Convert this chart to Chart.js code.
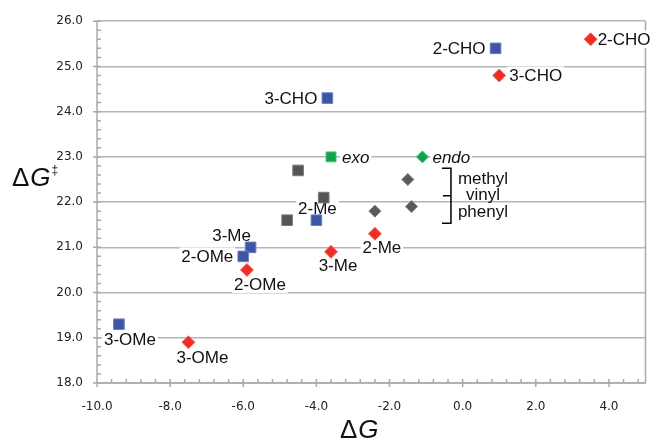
<!DOCTYPE html>
<html>
<head>
<meta charset="utf-8">
<title>ΔG‡ vs ΔG</title>
<script src="https://cdn.jsdelivr.net/npm/chart.js@4.4.0/dist/chart.umd.min.js"></script>
<style>
  html, body { margin: 0; padding: 0; background: #fff; }
  canvas { display: block; }
</style>
</head>
<body>
<canvas id="chart" width="654" height="441"></canvas>
<script>
// данные
const blueLabels = ['2-CHO', '3-CHO', '2-Me', '3-Me', '2-OMe', '3-OMe'];
const blueX = [0.9, -3.7, -4.0, -5.8, -6.0, -9.4];
const blueY = [25.4, 24.3, 21.6, 21.0, 20.8, 19.3];

const redLabels = ['2-CHO', '3-CHO', '2-Me', '3-Me', '2-OMe', '3-OMe'];
const redX = [3.5, 1.0, -2.4, -3.6, -5.9, -7.5];
const redY = [25.6, 24.8, 21.3, 20.9, 20.5, 18.9];

const greenLabels = ['exo', 'endo'];
const greenX = [-3.6, -1.1];
const greenY = [23.0, 23.0];

const greySquareX = [-4.5, -3.8, -4.8];
const greySquareY = [22.7, 22.1, 21.6];
const greyDiamondX = [-1.5, -1.4, -2.4];
const greyDiamondY = [22.5, 21.9, 21.8];

const bracketLabels = ['methyl', 'vinyl', 'phenyl'];
const bracketX = -0.32;
const bracketYRange = [21.53, 22.75];

const xTicks = [-10, -8, -6, -4, -2, 0, 2, 4];
const yTicks = [18, 19, 20, 21, 22, 23, 24, 25, 26];

// размещение подписей: [textAlign, dx, dy] в пикселях
const blueLabelPos = [['right', -10, 0], ['right', -10, 0], ['center', 1, -12],
                      ['center', -19, -12], ['right', -10, 0], ['center', 11, 15]];
const redLabelPos = [['left', 7, 0], ['left', 10, 0], ['center', 7, 14],
                     ['center', 7, 13], ['center', 13, 14], ['center', 14, 15]];
const greenLabelPos = [['left', 11, 0], ['left', 10, 0]];

const AXIS = '#a9a9a9';
const TEXT = '#111';
const SANS = '"Liberation Sans", Arial, sans-serif';

function pts(xs, ys) {
  return xs.map((x, i) => ({ x: x, y: ys[i] }));
}

// рамка, основные и промежуточные деления
const framePlugin = {
  id: 'frame',
  beforeDatasetsDraw(chart) {
    const { ctx, chartArea: a, scales: { x, y } } = chart;
    ctx.save();
    ctx.strokeStyle = AXIS;
    ctx.lineWidth = 1.5;
    ctx.beginPath();
    ctx.moveTo(a.left, a.top);
    ctx.lineTo(a.left, a.bottom);
    ctx.lineTo(a.right, a.bottom);
    ctx.lineTo(a.right, a.top);
    // minor ticks
    for (let v = -10; v < 5; v += 0.4) {
      const px = x.getPixelForValue(v);
      ctx.moveTo(px, a.bottom);
      ctx.lineTo(px, a.bottom - 4);
    }
    for (let v = 18; v < 26.01; v += 0.2) {
      const py = y.getPixelForValue(v);
      ctx.moveTo(a.left, py);
      ctx.lineTo(a.left + 4, py);
    }
    // major ticks
    xTicks.forEach(v => {
      const px = x.getPixelForValue(v);
      ctx.moveTo(px, a.bottom - 4);
      ctx.lineTo(px, a.bottom + 4);
    });
    yTicks.forEach(v => {
      const py = y.getPixelForValue(v);
      ctx.moveTo(a.left - 4, py);
      ctx.lineTo(a.left + 4, py);
    });
    ctx.stroke();

    // подписи точек (с белым фоном поверх сетки)
    const drawLabels = (labels, xs, ys, pos, italic) => {
      ctx.font = (italic ? 'italic ' : '') + '17px ' + SANS;
      ctx.textBaseline = 'middle';
      labels.forEach((t, i) => {
        const [align, dx, dy] = pos[i];
        const px = x.getPixelForValue(xs[i]) + dx;
        const py = y.getPixelForValue(ys[i]) + dy;
        const w = ctx.measureText(t).width;
        let left = px;
        if (align === 'right') left = px - w;
        if (align === 'center') left = px - w / 2;
        ctx.fillStyle = '#fff';
        ctx.fillRect(left - 2, py - 9, w + 4, 18);
        ctx.fillStyle = TEXT;
        ctx.textAlign = align;
        ctx.fillText(t, px, py + 1);
      });
    };
    drawLabels(blueLabels, blueX, blueY, blueLabelPos, false);
    drawLabels(redLabels, redX, redY, redLabelPos, false);
    drawLabels(greenLabels, greenX, greenY, greenLabelPos, true);

    // скобка methyl / vinyl / phenyl
    const bx = x.getPixelForValue(bracketX);
    const bTop = y.getPixelForValue(bracketYRange[1]);
    const bBot = y.getPixelForValue(bracketYRange[0]);
    const bMid = (bTop + bBot) / 2;
    ctx.strokeStyle = '#000';
    ctx.lineWidth = 1.5;
    ctx.beginPath();
    ctx.moveTo(bx - 9, bTop);
    ctx.lineTo(bx, bTop);
    ctx.lineTo(bx, bBot);
    ctx.lineTo(bx - 9, bBot);
    ctx.moveTo(bx, bMid);
    ctx.lineTo(bx - 8, bMid);
    ctx.stroke();
    ctx.font = '17px ' + SANS;
    ctx.fillStyle = TEXT;
    ctx.textAlign = 'center';
    ctx.textBaseline = 'middle';
    bracketLabels.forEach((t, i) => {
      ctx.fillText(t, bx + 32, bMid + (i - 1) * 16.5);
    });
    ctx.restore();
  },
  afterDraw(chart) {
    const { ctx } = chart;
    ctx.save();
    ctx.fillStyle = TEXT;
    ctx.textAlign = 'left';
    ctx.textBaseline = 'alphabetic';
    // ΔG‡ слева
    ctx.font = '26px ' + SANS;
    ctx.fillText('Δ', 12, 186);
    let w = ctx.measureText('Δ').width;
    ctx.font = 'italic 26px ' + SANS;
    ctx.fillText('G', 12 + w + 1, 186);
    const wg = ctx.measureText('G').width;
    ctx.font = '12px ' + SANS;
    ctx.fillText('‡', 12 + w + wg + 2, 174);
    // ΔG снизу
    ctx.font = '26px ' + SANS;
    ctx.fillText('Δ', 340, 438);
    w = ctx.measureText('Δ').width;
    ctx.font = 'italic 26px ' + SANS;
    ctx.fillText('G', 340 + w + 1, 438);
    ctx.restore();
  }
};

const tickFont = { family: '"DejaVu Sans", Verdana, sans-serif', size: 12 };

new Chart(document.getElementById('chart').getContext('2d'), {
  type: 'scatter',
  data: {
    datasets: [
      { data: pts(greySquareX, greySquareY), pointStyle: 'rect', pointRadius: 7.5,
        backgroundColor: '#555555', borderColor: '#7a7a7a', borderWidth: 1 },
      { data: pts(greyDiamondX, greyDiamondY), pointStyle: 'rectRot', pointRadius: 6,
        backgroundColor: '#5a5a5a', borderColor: '#7a7a7a', borderWidth: 1 },
      { data: pts(blueX, blueY), pointStyle: 'rect', pointRadius: 7.5,
        backgroundColor: '#3a56a5', borderColor: '#6b80bd', borderWidth: 1 },
      { data: pts(redX, redY), pointStyle: 'rectRot', pointRadius: 6.5,
        backgroundColor: '#ee2e24', borderColor: '#f4665e', borderWidth: 1 },
      { data: pts([greenX[0]], [greenY[0]]), pointStyle: 'rect', pointRadius: 7,
        backgroundColor: '#10a24b', borderColor: '#4cbb77', borderWidth: 1 },
      { data: pts([greenX[1]], [greenY[1]]), pointStyle: 'rectRot', pointRadius: 6,
        backgroundColor: '#10a24b', borderColor: '#4cbb77', borderWidth: 1 }
    ]
  },
  options: {
    responsive: false,
    animation: false,
    layout: { padding: { top: 16, right: 6, left: 0, bottom: 0 } },
    plugins: { legend: { display: false }, tooltip: { enabled: false } },
    scales: {
      x: {
        type: 'linear', min: -10, max: 5,
        afterBuildTicks: s => { s.ticks = xTicks.map(v => ({ value: v })); },
        afterFit: s => { s.height = 58; },
        grid: { display: false, drawTicks: false },
        border: { display: false },
        ticks: { font: tickFont, color: '#222', padding: 17, maxRotation: 0, autoSkip: false,
                 callback: v => Number(v).toFixed(1) }
      },
      y: {
        type: 'linear', min: 18, max: 26,
        afterBuildTicks: s => { s.ticks = yTicks.map(v => ({ value: v })); },
        afterFit: s => { s.width = 97; },
        grid: { color: '#b5b5b5', lineWidth: 1.5, drawTicks: false },
        border: { display: false },
        ticks: { font: tickFont, color: '#222', padding: 14, autoSkip: false,
                 callback: v => Number(v).toFixed(1) }
      }
    }
  },
  plugins: [framePlugin]
});
</script>
</body>
</html>
